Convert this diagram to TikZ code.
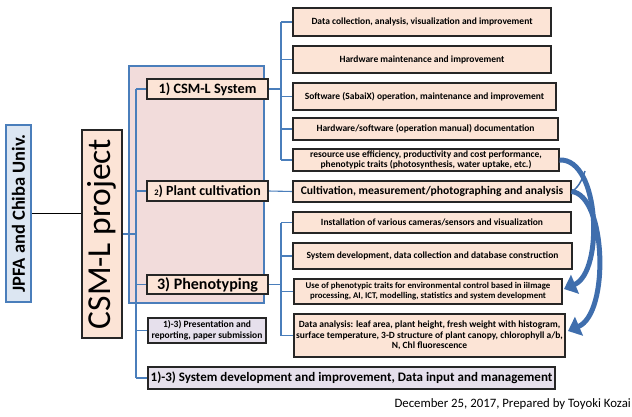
\documentclass[tikz,border=0pt]{standalone}
\usepackage{fontspec}
\setmainfont{Carlito}
\usetikzlibrary{arrows.meta}
\definecolor{peach}{HTML}{FCE4D6}
\definecolor{pinkbg}{HTML}{F2DCDB}
\definecolor{lineblue}{HTML}{4A7EBB}
\definecolor{arrowblue}{HTML}{3F6EAD}
\definecolor{paleblue}{HTML}{DCE6F2}
\definecolor{lavender}{HTML}{E6E0EC}
\definecolor{boxline}{HTML}{262626}
\pgfdeclarelayer{background}
\pgfsetlayers{background,main}
\tikzset{
  pbox/.style={draw=boxline, fill=peach, line width=1.1pt, inner sep=0pt, align=center, font=\bfseries},
  lbox/.style={draw=boxline, fill=lavender, line width=1.1pt, inner sep=0pt, align=center, font=\bfseries},
  conn/.style={draw=lineblue, line width=1.1pt},
  small/.style={font=\bfseries\fontsize{9.5}{10}\selectfont},
  bigarrow/.style={draw=arrowblue, line width=5pt, -{Triangle[length=12pt,width=20pt]}},
}
\begin{document}
\begin{tikzpicture}[x=1pt,y=-1pt]
\useasboundingbox (0,0) rectangle (632,416);
% left
\node[draw=lineblue, fill=paleblue, line width=1.1pt, minimum width=177pt, minimum height=25pt, inner sep=0pt, rotate=90, font=\bfseries\fontsize{18.5}{19}\selectfont] (jpfa) at (18.5,213.5) {JPFA and Chiba Univ.};
\node[draw=boxline, fill=peach, line width=1.1pt, minimum width=208pt, minimum height=40pt, inner sep=0pt, rotate=90, font=\fontsize{33.5}{36}\selectfont] (csml) at (102,234) {CSM-L project};
\node[pbox, minimum width=121pt, minimum height=20pt, font=\bfseries\fontsize{14.3}{15}\selectfont] (sys) at (207.5,89) {1) CSM-L System};
\node[pbox, minimum width=121pt, minimum height=20pt, font=\bfseries\fontsize{14}{15}\selectfont] (plant) at (207.5,191) {{\fontsize{8.5}{9}\selectfont 2}) Plant cultivation};
\node[pbox, minimum width=121pt, minimum height=19pt, font=\bfseries\fontsize{16}{17}\selectfont] (pheno) at (207.5,284.5) {3) Phenotyping};
\node[lbox, minimum width=118pt, minimum height=25pt, font=\bfseries\fontsize{9.5}{11}\selectfont] (pres) at (207,330.5) {1)-3) Presentation and\\reporting, paper submission};
\node[lbox, minimum width=407pt, minimum height=22pt, font=\bfseries\fontsize{13}{14}\selectfont] (sysdev) at (351.5,378) {1)-3) System development and improvement, Data input and management};
% right
\node[pbox, small, minimum width=258pt, minimum height=28pt] (b1) at (422,22) {Data collection, analysis, visualization and improvement};
\node[pbox, small, minimum width=258pt, minimum height=27pt] (b2) at (422,59.5) {Hardware maintenance and improvement};
\node[pbox, small, minimum width=263pt, minimum height=27pt] (b3) at (424.5,96.5) {Software (SabaiX) operation, maintenance and improvement};
\node[pbox, small, minimum width=265pt, minimum height=22pt] (b4) at (425.5,129) {Hardware/software (operation manual) documentation};
\node[pbox, small, minimum width=266pt, minimum height=22pt] (b5) at (426,160) {resource use efficiency, productivity and cost performance,\\phenotypic traits (photosynthesis, water uptake, etc.)};
\node[pbox, minimum width=278pt, minimum height=21pt, font=\bfseries\fontsize{11.6}{13}\selectfont] (b6) at (432,191.5) {Cultivation, measurement/photographing and analysis};
\node[pbox, small, minimum width=278pt, minimum height=21pt] (b7) at (432,222.5) {Installation of various cameras/sensors and visualization};
\node[pbox, small, minimum width=279pt, minimum height=26pt] (b8) at (432.5,256) {System development, data collection and database construction};
\node[pbox, minimum width=268pt, minimum height=25pt, font=\bfseries\fontsize{8.8}{10}\selectfont] (b9) at (428,291.5) {Use of phenotypic traits for environmental control based in iiImage\\processing, AI, ICT, modelling, statistics and system development};
\node[pbox, minimum width=271pt, minimum height=43pt, font=\bfseries\fontsize{9.5}{10.5}\selectfont] (b10) at (429.5,335.5) {Data analysis: leaf area, plant height, fresh weight with histogram,\\surface temperature, 3-D structure of plant canopy, chlorophyll a/b,\\N, Chl fluorescence};
\node[anchor=east, inner sep=0pt, font=\fontsize{12.8}{14}\selectfont] (foot) at (631,404) {December 25, 2017, Prepared by Toyoki Kozai};
% connectors
\coordinate (ttop) at (136,89);
\coordinate (tbot) at (136,378);
\coordinate (g1top) at (281,22);
\coordinate (g1bot) at (281,160);
\coordinate (g3top) at (281,222.5);
\coordinate (g3bot) at (281,335.5);
\begin{pgfonlayer}{background}
\fill[pinkbg, draw=lineblue, line width=1.1pt] (129,66) rectangle (264,303);
\draw[line width=1.1pt] (jpfa.south) -- (jpfa.south -| csml.north);
\draw[conn] (csml.south) -- (csml.south -| ttop);
\draw[conn] (ttop) -- (tbot);
\draw[conn] (ttop) -- (sys.west);
\draw[conn] (ttop |- plant.west) -- (plant.west);
\draw[conn] (ttop |- pheno.west) -- (pheno.west);
\draw[conn] (ttop |- pres.west) -- (pres.west);
\draw[conn] (tbot) -- (sysdev.west);
\draw[conn] (sys.east) -- (sys.east -| g1top);
\draw[conn] (g1top) -- (g1bot);
\foreach \b in {b1,b2,b3,b4,b5} \draw[conn] (g1top |- \b.west) -- (\b.west);
\draw[conn] (plant.east) -- (b6.west);
\draw[conn] (pheno.east) -- (pheno.east -| g3top);
\draw[conn] (g3top) -- (g3bot);
\foreach \b in {b7,b8,b9,b10} \draw[conn] (g3top |- \b.west) -- (\b.west);
\end{pgfonlayer}
% curved arrows
\draw[bigarrow] (b5.east) .. controls (600,158) and (604,272) .. (564,289);
\draw[bigarrow] (b6.east) .. controls (606,195) and (610,313) .. (568,331);
\draw[arrowblue, line width=1.5pt] (b6.east) .. controls (577,189) and (582,181) .. (585,171);
\end{tikzpicture}
\end{document}
